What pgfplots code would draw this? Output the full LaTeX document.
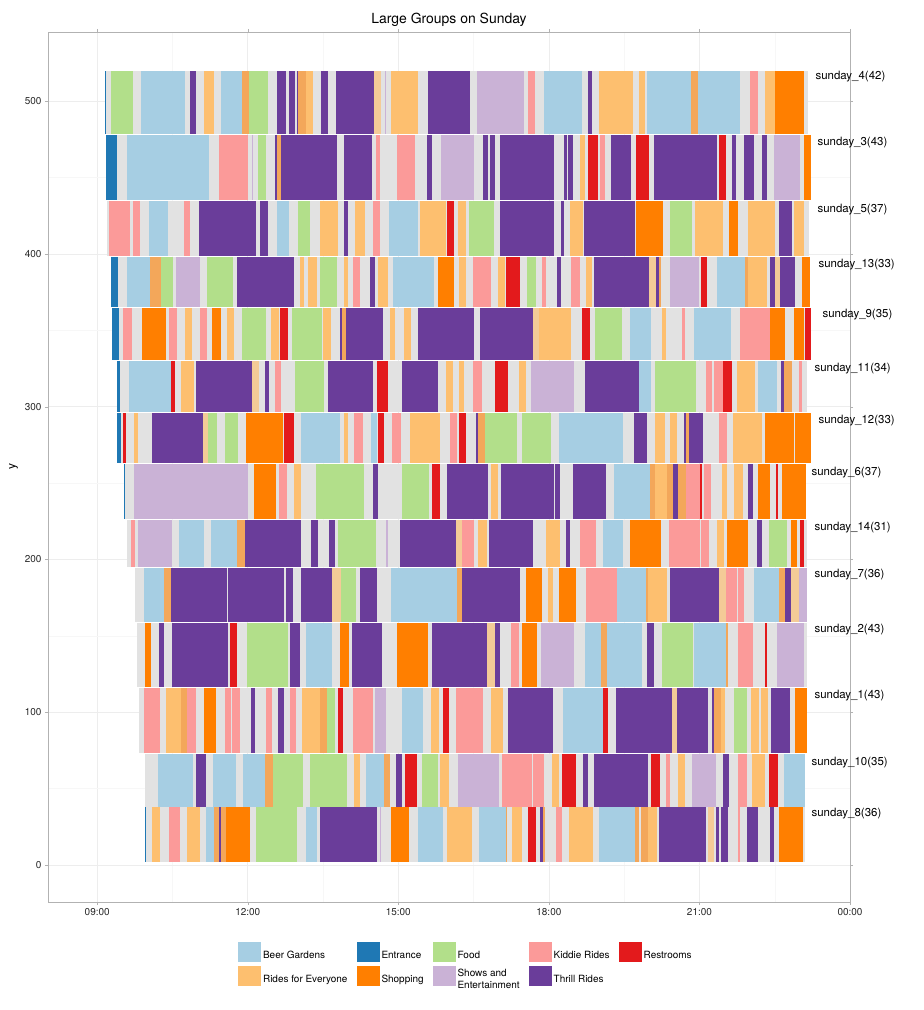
\documentclass[border=0pt]{standalone}
\usepackage{fontspec}
\setmainfont{TeX Gyre Heros}
\usepackage{pgfplots}
\usepackage{pgfplotstable}
\pgfplotsset{compat=1.18}

% ColorBrewer "Paired" as used for the activity types
\definecolor{bg}{HTML}{A6CEE3}  % Beer Gardens
\definecolor{en}{HTML}{1F78B4}  % Entrance
\definecolor{fo}{HTML}{B2DF8A}  % Food
\definecolor{ki}{HTML}{FB9A99}  % Kiddie Rides
\definecolor{re}{HTML}{E31A1C}  % Restrooms
\definecolor{ri}{HTML}{FDBF6F}  % Rides for Everyone
\definecolor{sh}{HTML}{FF7F00}  % Shopping
\definecolor{ss}{HTML}{CAB2D6}  % Shows and Entertainment
\definecolor{th}{HTML}{6A3D9A}  % Thrill Rides
\definecolor{gy}{HTML}{E2E2E2}  % between attractions
\colorlet{shm}{sh!60!gy}        % group split, part shopping
\colorlet{rim}{ri!65!gy}        % group split, part rides

% one table per group: start / end (hours), activity; first row = whole visit
\pgfplotstableread{
a b c
9.16 23.16 gy
9.16 9.18 en
9.28 9.71 fo
9.88 10.75 bg
10.85 10.97 th
11.13 11.33 ri
11.47 11.88 bg
11.88 12.02 shm
12.02 12.41 fo
12.59 12.77 th
12.82 12.95 th
12.98 13.01 th
13.01 13.16 shm
13.16 13.30 ri
13.46 13.60 th
13.76 14.51 th
14.52 14.65 rim
14.74 14.76 ss
14.86 15.40 ri
15.60 16.42 th
16.56 17.50 ss
17.58 17.73 ki
17.91 18.66 bg
18.77 18.86 th
19.00 19.67 ri
19.79 19.91 ri
19.95 20.84 bg
20.84 20.97 shm
20.97 21.81 bg
22.00 22.16 ki
22.30 22.51 ri
22.51 23.08 sh
}\sFour
\pgfplotstableread{
a b c
9.17 23.23 gy
9.17 9.40 en
9.60 11.23 bg
11.43 12.00 ki
12.08 12.11 ss
12.20 12.37 fo
12.55 12.59 th
12.59 12.67 shm
12.67 13.78 th
13.92 14.47 th
14.55 14.64 ki
14.97 15.34 ki
15.57 15.67 th
15.86 16.51 ss
16.69 16.78 th
16.83 16.92 th
17.03 18.11 th
18.31 18.36 th
18.39 18.48 th
18.62 18.71 ri
18.77 18.98 re
19.01 19.11 ki
19.23 19.63 th
19.74 20.00 re
20.09 21.35 th
21.38 21.52 re
21.65 21.72 th
21.89 22.09 th
22.25 22.34 th
22.48 23.00 ss
23.08 23.23 sh
}\sThree
\pgfplotstableread{
a b c
9.19 23.18 gy
9.23 9.66 ki
9.72 9.86 ki
10.04 10.42 bg
10.72 10.85 ki
11.03 12.17 th
12.24 12.40 th
12.59 12.82 bg
13.00 13.25 fo
13.43 13.80 ri
13.92 14.00 th
14.14 14.34 ri
14.49 14.64 ki
14.82 15.39 bg
15.44 15.95 ri
15.98 16.10 re
16.18 16.35 ri
16.41 16.90 fo
17.03 18.11 th
18.25 18.30 th
18.43 18.68 ri
18.70 19.71 th
19.74 20.27 sh
20.41 20.85 fo
20.92 21.47 ri
21.58 21.77 sh
21.97 22.50 ri
22.58 22.84 th
22.88 23.08 ri
}\sFive
\pgfplotstableread{
a b c
9.27 23.20 gy
9.27 9.42 en
9.60 10.05 bg
10.05 10.27 shm
10.27 10.52 fo
10.57 11.05 ss
11.19 11.70 fo
11.79 12.92 th
13.04 13.13 ri
13.21 13.37 ri
13.43 13.77 fo
13.92 14.00 ri
14.10 14.24 ki
14.44 14.54 th
14.60 14.79 ri
14.89 15.72 bg
15.80 16.10 sh
16.21 16.35 ri
16.49 16.84 ki
16.99 17.12 ri
17.15 17.42 re
17.56 17.75 fo
17.87 17.95 ki
18.16 18.25 th
18.45 18.62 ki
18.73 18.85 ri
18.90 19.99 th
19.99 20.14 rim
20.14 20.19 th
20.19 20.24 shm
20.41 21.00 ss
21.04 21.16 re
21.35 21.90 bg
21.90 21.97 shm
21.97 22.34 ri
22.41 22.51 th
22.51 22.61 rim
22.61 22.90 th
23.04 23.20 sh
}\sThirteen
\pgfplotstableread{
a b c
9.29 23.22 gy
9.29 9.44 en
9.52 9.70 ki
9.90 10.38 sh
10.44 10.59 ki
10.75 10.89 ri
11.05 11.19 ki
11.29 11.47 sh
11.59 11.73 ri
11.89 12.37 fo
12.46 12.63 ri
12.65 12.81 re
12.89 13.47 fo
13.50 13.66 ri
13.84 13.88 th
13.88 13.96 shm
13.96 14.70 th
14.84 14.94 ri
15.12 15.26 ri
15.40 16.51 th
16.63 17.69 th
17.69 17.81 rim
17.81 18.45 ri
18.66 18.82 re
18.91 19.46 fo
19.61 20.04 bg
20.26 20.34 ri
20.65 20.72 ki
20.89 21.63 bg
21.80 22.40 ki
22.40 22.70 sh
22.88 23.08 sh
23.10 23.22 re
}\sNine
\pgfplotstableread{
a b c
9.39 23.14 gy
9.39 9.45 en
9.64 10.47 bg
10.47 10.55 re
10.67 10.92 ri
10.96 12.08 th
12.08 12.23 rim
12.35 12.43 th
12.55 12.67 ki
12.95 13.51 fo
13.60 14.50 th
14.58 14.80 re
15.08 15.80 th
15.96 16.08 ri
16.20 16.31 ri
16.48 16.66 ki
16.92 17.18 re
17.40 17.54 ri
17.65 18.51 ss
18.71 19.79 th
19.79 20.03 bg
20.11 20.94 fo
21.14 21.26 ki
21.30 21.46 ki
21.46 21.64 re
21.74 22.10 ri
22.16 22.54 bg
22.63 22.68 th
22.68 22.84 shm
22.98 23.04 ki
}\sEleven
\pgfplotstableread{
a b c
9.39 23.23 gy
9.39 9.48 en
9.52 9.58 re
9.74 9.81 ri
10.10 11.11 th
11.11 11.21 rim
11.21 11.39 fo
11.54 11.80 fo
11.97 12.71 sh
12.73 12.93 re
13.07 13.84 bg
13.92 14.00 ri
14.12 14.30 ki
14.46 14.58 bg
14.60 14.72 re
14.88 15.06 ki
15.23 15.84 ri
16.02 16.16 ki
16.20 16.35 re
16.54 16.59 th
16.59 16.73 shm
16.73 17.36 fo
17.46 18.05 fo
18.21 19.48 bg
19.69 19.95 th
20.11 20.31 ri
20.41 20.55 ri
20.70 20.74 th
20.74 20.80 shm
20.80 21.08 th
21.39 21.54 ki
21.66 22.24 ri
22.31 22.88 sh
22.90 23.23 sh
}\sTwelve
\pgfplotstableread{
a b c
9.54 23.12 gy
9.54 9.56 en
9.74 12.00 ss
12.13 12.56 sh
12.63 12.79 ki
12.93 13.07 ri
13.35 14.32 fo
14.50 14.60 th
15.08 15.62 fo
15.68 15.84 re
15.98 16.78 th
16.84 16.98 ri
17.04 18.11 th
18.13 18.23 th
18.49 19.13 th
19.29 20.01 bg
20.01 20.11 shm
20.11 20.35 ri
20.35 20.48 shm
20.48 20.57 th
20.57 20.74 shm
20.74 21.02 ki
21.02 21.06 re
21.10 21.24 ki
21.44 21.54 ri
21.68 21.86 ri
21.97 22.06 th
22.16 22.40 sh
22.52 22.56 re
22.64 23.12 sh
}\sSix
\pgfplotstableread{
a b c
9.60 23.14 gy
9.68 9.75 ki
9.82 10.50 ss
10.63 11.12 bg
11.27 11.79 bg
11.79 11.94 shm
11.94 13.07 th
13.27 13.39 th
13.61 13.74 th
13.80 14.56 fo
14.76 14.79 ss
15.04 16.14 th
16.14 16.27 rim
16.27 16.51 ki
16.58 16.76 ri
16.80 17.68 th
17.95 18.23 ri
18.35 18.43 th
18.62 18.93 ki
19.07 19.48 bg
19.61 20.23 sh
20.39 21.02 ki
21.04 21.20 ki
21.35 21.48 ri
21.54 21.96 sh
22.14 22.24 th
22.38 22.74 fo
22.82 22.94 sh
23.00 23.08 re
}\sFourteen
\pgfplotstableread{
a b c
9.76 23.15 gy
9.94 10.34 bg
10.34 10.47 shm
10.47 11.59 th
11.61 12.73 th
12.76 12.90 th
13.06 13.68 th
13.68 13.86 rim
13.86 14.16 fo
14.24 14.58 th
14.86 16.16 bg
16.16 16.27 shm
16.27 17.42 th
17.55 17.87 sh
17.99 18.09 ri
18.21 18.55 sh
18.73 19.35 ki
19.35 19.93 bg
19.93 19.98 shm
19.98 20.35 ri
20.41 21.38 th
21.38 21.52 rim
21.52 21.75 ki
21.77 21.88 ki
22.08 22.58 bg
22.58 22.70 shm
22.70 22.82 th
22.82 22.98 rim
22.98 23.15 ss
}\sSeven
\pgfplotstableread{
a b c
9.80 23.15 gy
9.95 10.07 sh
10.24 10.34 th
10.50 11.61 th
11.65 11.79 re
11.99 12.81 fo
12.84 13.05 th
13.17 13.68 bg
13.84 14.02 sh
14.08 14.68 th
14.98 15.60 sh
15.68 16.76 th
16.76 16.92 rim
16.92 17.02 th
17.24 17.40 ki
17.46 17.77 sh
17.85 18.51 ss
18.71 19.03 bg
19.03 19.16 shm
19.16 19.85 bg
19.95 20.09 th
20.25 20.87 fo
20.90 21.52 bg
21.52 21.56 shm
21.77 22.06 ki
22.30 22.35 re
22.55 23.08 ss
}\sTwo
\pgfplotstableread{
a b c
9.84 23.15 gy
9.93 10.26 ki
10.38 10.67 ri
10.67 10.79 shm
10.79 10.97 ki
11.13 11.37 sh
11.54 11.67 ki
11.69 11.85 ki
12.07 12.15 th
12.37 12.49 ki
12.61 12.73 th
12.85 12.97 ki
13.09 13.43 ri
13.43 13.57 shm
13.57 13.74 fo
13.80 13.90 re
14.10 14.50 ki
14.54 14.76 ss
15.08 15.50 bg
15.66 15.82 ri
15.90 16.00 re
16.14 16.68 ki
16.84 17.08 ri
17.18 18.08 th
18.28 19.07 bg
19.07 19.17 re
19.33 20.45 th
20.45 20.55 rim
20.55 21.17 th
21.26 21.30 th
21.30 21.42 shm
21.42 21.50 ri
21.68 21.94 fo
22.03 22.18 ri
22.22 22.36 ri
22.42 22.80 th
22.90 23.15 sh
}\sOne
\pgfplotstableread{
a b c
9.96 23.10 gy
10.22 10.91 bg
10.97 11.17 th
11.31 11.77 bg
11.91 12.35 bg
12.35 12.51 shm
12.51 13.11 fo
13.25 13.98 fo
14.12 14.24 ri
14.36 14.72 bg
14.72 14.84 shm
14.96 15.08 th
15.14 15.38 re
15.48 15.80 fo
15.84 16.00 ri
16.18 17.01 ss
17.07 17.67 ki
17.69 17.91 ki
18.07 18.21 ri
18.27 18.55 re
18.67 18.77 th
18.89 19.97 th
20.03 20.21 re
20.33 20.41 ki
20.57 20.72 ri
20.86 21.32 ss
21.46 21.58 th
21.76 21.94 ki
22.04 22.30 ri
22.38 22.56 re
22.69 23.10 bg
}\sTen
\pgfplotstableread{
a b c
9.96 23.10 gy
9.96 9.98 en
10.10 10.26 ri
10.44 10.65 ki
10.79 11.05 ri
11.17 11.33 bg
11.33 11.42 shm
11.42 11.47 th
11.47 11.57 shm
11.57 12.05 sh
12.17 12.99 fo
13.17 13.37 bg
13.44 14.58 th
14.64 14.66 ss
14.86 15.22 sh
15.40 15.90 bg
15.98 16.46 ri
16.60 17.14 bg
17.14 17.17 shm
17.26 17.46 ri
17.58 17.75 re
17.83 17.88 th
17.88 17.93 shm
18.14 18.27 ki
18.41 18.87 ri
18.99 19.71 bg
19.71 19.79 shm
19.84 19.97 shm
19.97 20.15 ri
20.19 21.14 th
21.17 21.30 rim
21.32 21.38 th
21.42 21.56 th
21.76 21.80 ki
21.94 22.17 th
22.40 22.48 th
22.58 23.06 sh
}\sEight

% draw every segment of a group as a filled box from y=#2 to y=#3
\newcommand\drawgroup[3]{%
  \pgfplotstablegetrowsof{#1}%
  \pgfmathtruncatemacro\nrows{\pgfplotsretval-1}%
  \pgfplotsforeachungrouped \i in {0,...,\nrows}{%
    \pgfplotstablegetelem{\i}{a}\of{#1}\let\sa\pgfplotsretval
    \pgfplotstablegetelem{\i}{b}\of{#1}\let\sb\pgfplotsretval
    \pgfplotstablegetelem{\i}{c}\of{#1}\let\sc\pgfplotsretval
    \edef\tmp{\noexpand\addplot[forget plot, fill=\sc, draw=none]
      coordinates {(\sa,#2) (\sb,#2) (\sb,#3) (\sa,#3)} -- cycle;}%
    \tmp
  }%
}

\begin{document}
\begin{tikzpicture}
\begin{axis}[name=ax, scale only axis, width=802bp, height=870bp,
    xmin=8.02, xmax=24, ymin=-24.2, ymax=545.2, clip=false,
    xtick={9,12,15,18,21,24},
    xticklabels={09:00,12:00,15:00,18:00,21:00,00:00},
    ytick={0,100,...,500},
    minor xtick={10.5,13.5,16.5,19.5,22.5}, minor ytick={50,150,...,450},
    grid=both, major grid style={gray!14, line width=0.6pt},
    minor grid style={gray!6, line width=0.4pt},
    axis line style={gray!60}, tick style={gray!60},
    tick align=outside, major tick length=3bp, minor tick length=0pt,
    tick label style={font=\fontsize{10}{12}\selectfont, black!85},
    /pgf/number format/assume math mode=true,
    ylabel={y}, ylabel style={font=\fontsize{12}{14}\selectfont},
    title={Large Groups on Sunday},
    title style={font=\fontsize{14}{16}\selectfont, at={(0.5,1)}, anchor=base, yshift=3bp},
    legend columns=5, legend cell align=left,
    legend style={at={(0.521,-0.046)}, anchor=north, draw=none, fill=none,
      font=\fontsize{10}{12}\selectfont, cells={align=left}, row sep=4bp, inner sep=0pt,
      /tikz/every even column/.append style={column sep=7bp}},
    legend image code/.code={\fill[#1, draw=none] (0bp,-6.5bp) rectangle (23bp,13.5bp);},
  ]
\drawgroup{\sFour}{478.3}{519.7}
\drawgroup{\sThree}{435.3}{477.7}
\drawgroup{\sFive}{398.3}{434.7}
\drawgroup{\sThirteen}{365.3}{397.7}
\drawgroup{\sNine}{330.3}{364.7}
\drawgroup{\sEleven}{296.3}{329.7}
\drawgroup{\sTwelve}{263.3}{295.7}
\drawgroup{\sSix}{226.3}{262.7}
\drawgroup{\sFourteen}{195.3}{225.7}
\drawgroup{\sSeven}{159.3}{194.7}
\drawgroup{\sTwo}{116.3}{158.7}
\drawgroup{\sOne}{73.3}{115.7}
\drawgroup{\sTen}{38.3}{72.7}
\drawgroup{\sEight}{2.3}{37.7}

\addlegendimage{fill=bg, draw=none}\addlegendentry{Beer Gardens}
\addlegendimage{fill=en, draw=none}\addlegendentry{Entrance}
\addlegendimage{fill=fo, draw=none}\addlegendentry{Food}
\addlegendimage{fill=ki, draw=none}\addlegendentry{Kiddie Rides}
\addlegendimage{fill=re, draw=none}\addlegendentry{Restrooms}
\addlegendimage{fill=ri, draw=none}\addlegendentry{Rides for Everyone}
\addlegendimage{fill=sh, draw=none}\addlegendentry{Shopping}
\addlegendimage{fill=ss, draw=none}\addlegendentry{Shows and\\Entertainment}
\addlegendimage{fill=th, draw=none}\addlegendentry{Thrill Rides}

\begin{scope}[every node/.style={anchor=west, inner sep=0pt, font=\fontsize{11.5}{13}\selectfont}]
\node at (axis cs:23.31,516) {sunday\_4(42)};
\node at (axis cs:23.35,472.5) {sunday\_3(43)};
\node at (axis cs:23.35,429) {sunday\_5(37)};
\node at (axis cs:23.37,392.7) {sunday\_13(33)};
\node at (axis cs:23.45,360) {sunday\_9(35)};
\node at (axis cs:23.29,325) {sunday\_11(34)};
\node at (axis cs:23.37,291) {sunday\_12(33)};
\node at (axis cs:23.23,257) {sunday\_6(37)};
\node at (axis cs:23.29,221) {sunday\_14(31)};
\node at (axis cs:23.29,190) {sunday\_7(36)};
\node at (axis cs:23.29,154) {sunday\_2(43)};
\node at (axis cs:23.29,111) {sunday\_1(43)};
\node at (axis cs:23.23,67) {sunday\_10(35)};
\node at (axis cs:23.23,34) {sunday\_8(36)};
\end{scope}
\end{axis}
\pgfresetboundingbox
\path ([shift={(-48bp,-108bp)}]ax.south west) rectangle ([shift={(74bp,32bp)}]ax.north east);
\end{tikzpicture}
\end{document}
